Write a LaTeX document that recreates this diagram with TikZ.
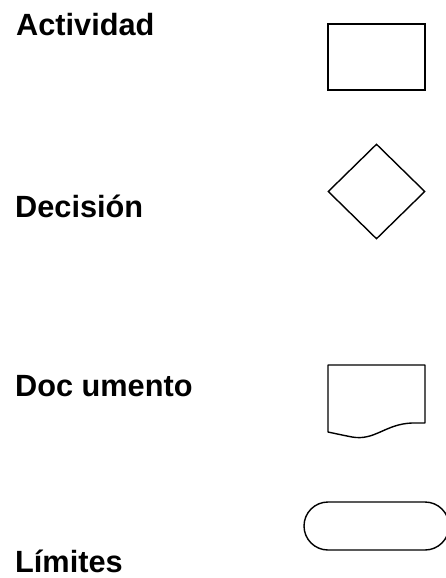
\documentclass[tikz,border=0pt]{standalone}
\usepackage{fontspec}
\setmainfont{Liberation Sans}
\usepackage{tikz}
\usetikzlibrary{shapes.geometric}

\begin{document}
\begin{tikzpicture}[x=1pt,y=-1pt]
        \tikzstyle{symtext}=[anchor=base west,inner sep=0pt,font=\fontsize{30.7}{36}\selectfont\bfseries];
        \tikzstyle{symbox}=[draw,line width=1.4pt,inner sep=0pt];
        \useasboundingbox (0,0) rectangle (445,578);
        \node[symtext] (t1) at (16,36) {Actividad};
        \node[symbox,minimum width=97pt,minimum height=66pt] (v1) at (376.5,57) {};
        
        \node[symtext] (t2) at (15,217) {Decisión};
        \node[symbox,diamond,minimum width=97pt,minimum height=95pt] (v2) at (376.5,191.5) {};
        
        \node[symtext] (t3) at (15,396) {Doc umento};
        \draw [line width=1.4pt,line join=round] (328,365) -- (425,365) -- (425,423) -- (412,423)
            .. controls (385,424) and (375,441) .. (352,437)
            .. controls (342,435) .. (328,432) -- cycle;
        
        \node[symtext] (t4) at (15,572.5) {Límites};
        \node[symbox,rounded corners=24pt,minimum width=145pt,minimum height=48pt] (v4) at (376.5,526) {};
    \end{tikzpicture}
\end{document}
